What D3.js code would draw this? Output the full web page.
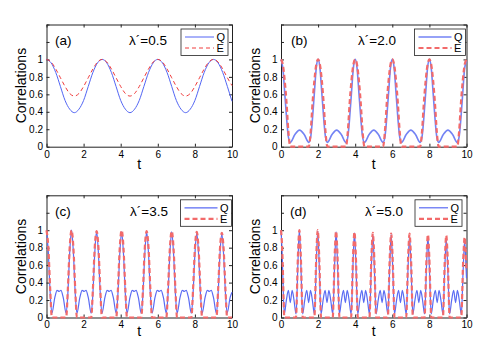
<!DOCTYPE html>
<html>
<head>
<meta charset="utf-8">
<script src="https://cdn.jsdelivr.net/npm/d3@7"></script>
<style>
	body { margin: 0; background: #fff; }
	svg { font-family: "Liberation Sans", Arial, sans-serif; }
</style>
</head>
<body>
<div class="chart"></div>
<script>
var WIDTH = 491,
	HEIGHT = 357,
	PLOT_W = 185.5,
	PLOT_H = 122.2;

// axis ticks
var xTicks = [0, 2, 4, 6, 8, 10];
var yTicks = [0, 0.2, 0.4, 0.6, 0.8, 1, 1.2, 1.4];
var yTickLabels = ["0", "0.2", "0.4", "0.6", "0.8", "1", "", ""];
var seriesNames = ["Q", "E"];
var panelLetters = ["(a)", "(b)", "(c)", "(d)"];
var lambdaValues = ["0.5", "2.0", "3.5", "5.0"];

// (a) lambda' = 0.5
var tA = [0,0.25,0.5,0.75,1,1.25,1.5,1.75,2,2.25,2.5,2.75,3,3.25,3.5,3.75,4,4.25,4.5,4.75,5,
	5.25,5.5,5.75,6,6.25,6.5,6.75,7,7.25,7.5,7.75,8,8.25,8.5,8.75,9,9.25,9.5,9.75,10];
var qA = [1.00,0.96,0.85,0.69,0.53,0.43,0.39,0.43,0.53,0.69,0.85,0.96,
	1.00,0.96,0.85,0.69,0.53,0.43,0.39,0.43,0.53,0.69,0.85,0.96,
	1.00,0.96,0.85,0.69,0.53,0.43,0.39,0.43,0.53,0.69,0.85,0.96,
	1.00,0.96,0.85,0.69,0.52];
var eA = [1.00,0.97,0.89,0.79,0.69,0.61,0.58,0.61,0.69,0.79,0.89,0.97,
	1.00,0.97,0.89,0.79,0.69,0.61,0.58,0.61,0.69,0.79,0.89,0.97,
	1.00,0.97,0.89,0.79,0.69,0.61,0.58,0.61,0.69,0.79,0.89,0.97,
	1.00,0.97,0.89,0.79,0.70];

// (b) lambda' = 2.0
var tB = [0,0.1,0.2,0.3,0.4,0.5,0.75,1,1.25,1.5,1.6,1.7,1.8,1.9,
	2,2.1,2.2,2.3,2.4,2.5,2.75,3,3.25,3.5,3.6,3.7,3.8,3.9,
	4,4.1,4.2,4.3,4.4,4.5,4.75,5,5.25,5.5,5.6,5.7,5.8,5.9,
	6,6.1,6.2,6.3,6.4,6.5,6.75,7,7.25,7.5,7.6,7.7,7.8,7.9,
	8,8.1,8.2,8.3,8.4,8.5,8.75,9,9.25,9.5,9.6,9.7,9.8,9.9,
	10];
var qB = [1.00,0.90,0.62,0.33,0.11,0.05,0.14,0.19,0.14,0.05,0.11,0.33,0.62,0.90,
	1.00,0.90,0.62,0.33,0.11,0.05,0.14,0.19,0.14,0.05,0.11,0.33,0.62,0.90,
	1.00,0.90,0.62,0.33,0.11,0.05,0.14,0.19,0.14,0.05,0.11,0.33,0.62,0.90,
	1.00,0.90,0.62,0.33,0.11,0.05,0.14,0.19,0.14,0.05,0.11,0.33,0.62,0.90,
	1.00,0.90,0.62,0.33,0.11,0.05,0.14,0.19,0.14,0.05,0.11,0.33,0.62,0.90,
	0.98];
var eB = [1.00,0.94,0.76,0.50,0.17,0,0,0,0,0,0.17,0.50,0.76,0.94,
	1.00,0.94,0.76,0.50,0.17,0,0,0,0,0,0.17,0.50,0.76,0.94,
	1.00,0.94,0.76,0.50,0.17,0,0,0,0,0,0.17,0.50,0.76,0.94,
	1.00,0.94,0.76,0.50,0.17,0,0,0,0,0,0.17,0.50,0.76,0.94,
	1.00,0.94,0.76,0.50,0.17,0,0,0,0,0,0.17,0.50,0.76,0.94,
	1.00];

// (c) lambda' = 3.5
var tC = [0,0.10,0.20,0.29,0.45,0.57,0.68,0.78,0.90,1.06,1.15,1.25,
	1.35,1.45,1.55,1.64,1.80,1.92,2.03,2.13,2.25,2.41,2.50,2.60,
	2.70,2.80,2.90,2.99,3.15,3.27,3.38,3.48,3.60,3.76,3.85,3.95,
	4.05,4.15,4.25,4.34,4.50,4.62,4.73,4.83,4.95,5.11,5.20,5.30,
	5.40,5.50,5.60,5.69,5.85,5.97,6.08,6.18,6.30,6.46,6.55,6.65,
	6.75,6.85,6.95,7.04,7.20,7.32,7.43,7.53,7.65,7.81,7.90,8.00,
	8.10,8.20,8.30,8.39,8.55,8.67,8.78,8.88,9.00,9.16,9.25,9.35,
	9.45,9.55,9.65,9.74,9.90,10.00];
var qC = [1.00,0.74,0.27,0.05,0.23,0.31,0.30,0.31,0.23,0.05,0.27,0.74,
	1.00,0.74,0.27,0.05,0.23,0.31,0.30,0.31,0.23,0.05,0.27,0.73,
	0.99,0.73,0.27,0.05,0.23,0.31,0.30,0.31,0.23,0.05,0.27,0.73,
	0.98,0.73,0.27,0.05,0.23,0.31,0.30,0.31,0.23,0.05,0.27,0.73,
	0.98,0.73,0.27,0.05,0.23,0.31,0.30,0.31,0.23,0.05,0.27,0.73,
	0.98,0.73,0.27,0.05,0.23,0.31,0.30,0.31,0.23,0.05,0.27,0.72,
	0.97,0.72,0.27,0.05,0.23,0.31,0.30,0.31,0.23,0.05,0.27,0.72,
	0.96,0.71,0.27,0.05,0.23,0.29];
var eC = [1.00,0.80,0.32,0,0,0,0,0,0,0,0.32,0.80,
	1.00,0.80,0.32,0,0,0,0,0,0,0,0.32,0.80,
	0.99,0.80,0.32,0,0,0,0,0,0,0,0.32,0.80,
	1.00,0.80,0.32,0,0,0,0,0,0,0,0.32,0.80,
	0.99,0.80,0.32,0,0,0,0,0,0,0,0.32,0.79,
	0.99,0.79,0.32,0,0,0,0,0,0,0,0.32,0.79,
	0.98,0.78,0.31,0,0,0,0,0,0,0,0.31,0.78,
	0.97,0.78,0.31,0,0,0];

// (d) lambda' = 5.0
var tD = [0,0.05,0.10,0.14,0.18,0.29,0.40,0.50,0.60,0.70,0.81,0.85,0.89,0.94,
	0.99,1.04,1.09,1.13,1.17,1.28,1.39,1.49,1.59,1.69,1.80,1.84,1.88,1.93,
	1.98,2.03,2.08,2.12,2.16,2.27,2.38,2.48,2.58,2.68,2.79,2.83,2.87,2.92,
	2.97,3.02,3.07,3.11,3.15,3.26,3.37,3.47,3.57,3.67,3.78,3.82,3.86,3.91,
	3.96,4.01,4.06,4.10,4.14,4.25,4.36,4.46,4.56,4.66,4.77,4.81,4.85,4.90,
	4.95,5.00,5.05,5.09,5.13,5.24,5.35,5.45,5.55,5.65,5.76,5.80,5.84,5.89,
	5.94,5.99,6.04,6.08,6.12,6.23,6.34,6.44,6.54,6.64,6.75,6.79,6.83,6.88,
	6.93,6.98,7.03,7.07,7.11,7.22,7.33,7.43,7.53,7.63,7.74,7.78,7.82,7.87,
	7.92,7.97,8.02,8.06,8.10,8.21,8.32,8.42,8.52,8.62,8.73,8.77,8.81,8.86,
	8.91,8.96,9.01,9.05,9.09,9.20,9.31,9.41,9.51,9.61,9.72,9.76,9.80,9.85,
	9.90,9.95,10.00];
var qD = [1.00,0.80,0.48,0.18,0.04,0.20,0.31,0.17,0.31,0.20,0.04,0.18,0.47,0.80,
	1.00,0.80,0.48,0.18,0.04,0.20,0.31,0.17,0.31,0.20,0.04,0.18,0.47,0.79,
	0.99,0.79,0.48,0.18,0.04,0.20,0.31,0.17,0.31,0.20,0.04,0.18,0.47,0.78,
	0.98,0.78,0.47,0.18,0.04,0.20,0.31,0.17,0.31,0.20,0.04,0.18,0.47,0.78,
	0.97,0.78,0.47,0.18,0.04,0.20,0.31,0.17,0.31,0.20,0.04,0.18,0.46,0.76,
	0.95,0.76,0.46,0.18,0.04,0.20,0.31,0.17,0.31,0.20,0.04,0.18,0.46,0.76,
	0.95,0.76,0.46,0.18,0.04,0.20,0.31,0.17,0.31,0.20,0.04,0.18,0.46,0.74,
	0.93,0.74,0.46,0.18,0.04,0.20,0.31,0.17,0.31,0.20,0.04,0.18,0.45,0.74,
	0.92,0.74,0.45,0.18,0.04,0.20,0.31,0.17,0.31,0.20,0.04,0.18,0.45,0.72,
	0.90,0.72,0.45,0.18,0.04,0.20,0.31,0.17,0.31,0.20,0.04,0.18,0.44,0.70,
	0.88,0.70,0.45];
var eD = [1.00,0.85,0.55,0.20,0,0,0,0,0,0,0,0.20,0.55,0.85,
	1.00,0.85,0.55,0.20,0,0,0,0,0,0,0,0.20,0.55,0.85,
	1.00,0.85,0.55,0.20,0,0,0,0,0,0,0,0.20,0.55,0.84,
	0.99,0.84,0.55,0.20,0,0,0,0,0,0,0,0.20,0.54,0.83,
	0.98,0.83,0.54,0.20,0,0,0,0,0,0,0,0.20,0.54,0.82,
	0.97,0.82,0.54,0.20,0,0,0,0,0,0,0,0.20,0.54,0.82,
	0.96,0.82,0.54,0.20,0,0,0,0,0,0,0,0.20,0.54,0.82,
	0.96,0.82,0.54,0.20,0,0,0,0,0,0,0,0.20,0.53,0.81,
	0.95,0.81,0.53,0.20,0,0,0,0,0,0,0,0.20,0.53,0.80,
	0.94,0.80,0.53,0.20,0,0,0,0,0,0,0,0.20,0.52,0.78,
	0.92,0.78,0.55];

var panels = [
	{ left: 46.5, top: 24.5, t: tA, q: qA, e: eA, qW: 1, eW: 1, qC: "#5265f4", eC: "#f03c3c", dash: "4,3", lamX: 82.5, letX: 8.5, legR: 4, legW: 47, pad: 4.5, tY: 22 },
	{ left: 281, top: 24.5, t: tB, q: qB, e: eB, qW: 1.6, eW: 2.2, qC: "#7383f4", eC: "#f26a6a", dash: "5,3", lamX: 77, letX: 10, legR: 1, legW: 51, pad: 4.5, tY: 22 },
	{ left: 46.5, top: 195.3, t: tC, q: qC, e: eC, qW: 1.2, eW: 2.2, qC: "#5a6bf3", eC: "#f26a6a", dash: "5,3", lamX: 83.5, letX: 8.5, legR: 0.5, legW: 51, pad: 3, tY: 19 },
	{ left: 281, top: 195.3, t: tD, q: qD, e: eD, qW: 1.2, eW: 2.2, qC: "#5a6bf3", eC: "#f26a6a", dash: "5,3", lamX: 84, letX: 9, legR: 4.5, legW: 47, pad: 3, tY: 19 }
];

var svg;

var drawPanel = function(p, i) {
	var xScale = d3.scaleLinear()
		.domain([0, 10])
		.range([0, PLOT_W]);

	var yScale = d3.scaleLinear()
		.domain([0, 1.4])
		.range([PLOT_H, 0]);

	var g = svg.append("g")
		.attr("transform", "translate(" + p.left + "," + p.top + ")");

	var tick = function(sel) {
		sel.selectAll("path").attr("stroke", "#222");
		sel.selectAll("line").attr("stroke", "#222");
		sel.selectAll("text").attr("fill", "#000").style("font-size", "10px");
	};

	g.append("g")
		.attr("transform", "translate(0," + PLOT_H + ")")
		.call(d3.axisBottom(xScale).tickValues(xTicks).tickSizeInner(-3).tickSizeOuter(0).tickPadding(p.pad))
		.call(tick);
	g.append("g")
		.call(d3.axisTop(xScale).tickValues(xTicks).tickSizeInner(-3).tickSizeOuter(0).tickFormat(""))
		.call(tick);
	g.append("g")
		.call(d3.axisLeft(yScale).tickValues(yTicks).tickSizeInner(-3).tickSizeOuter(0).tickPadding(3.5)
			.tickFormat(function(d, j) { return yTickLabels[j]; }))
		.call(tick);
	g.append("g")
		.attr("transform", "translate(" + PLOT_W + ",0)")
		.call(d3.axisRight(yScale).tickValues(yTicks).tickSizeInner(-3).tickSizeOuter(0).tickFormat(""))
		.call(tick);

	var line = d3.line()
		.curve(d3.curveMonotoneX)
		.x(function(d) { return xScale(d[0]); })
		.y(function(d) { return yScale(d[1]); });

	g.append("path")
		.attr("d", line(d3.zip(p.t, p.q)))
		.attr("fill", "none")
		.attr("stroke", p.qC)
		.attr("stroke-width", p.qW);

	g.append("path")
		.attr("d", line(d3.zip(p.t, p.e)))
		.attr("fill", "none")
		.attr("stroke", p.eC)
		.attr("stroke-width", p.eW)
		.attr("stroke-dasharray", p.dash);

	// labels
	g.append("text")
		.attr("x", p.letX)
		.attr("y", 20.5)
		.style("font-size", "13.5px")
		.text(panelLetters[i]);

	g.append("text")
		.attr("x", p.lamX)
		.attr("y", 20.5)
		.style("font-size", "13.5px")
		.text("\u03bb\u00b4=" + lambdaValues[i]);

	g.append("text")
		.attr("x", PLOT_W / 2)
		.attr("y", PLOT_H + p.tY)
		.attr("text-anchor", "middle")
		.style("font-size", "14px")
		.text("t");

	g.append("text")
		.attr("transform", "translate(-21," + (PLOT_H / 2) + ") rotate(-90)")
		.attr("text-anchor", "middle")
		.style("font-size", "14px")
		.text("Correlations");

	// legend
	var lg = g.append("g")
		.attr("transform", "translate(" + (PLOT_W - p.legR - p.legW) + ",4.5)");
	lg.append("rect")
		.attr("width", p.legW)
		.attr("height", 26.5)
		.attr("fill", "#fff")
		.attr("stroke", "#222")
		.attr("stroke-width", 0.8);
	[0, 1].forEach(function(k) {
		var yy = 8 + k * 11;
		lg.append("line")
			.attr("x1", 4).attr("x2", p.legW - 14)
			.attr("y1", yy).attr("y2", yy)
			.attr("stroke", k ? p.eC : p.qC)
			.attr("stroke-width", k ? p.eW : p.qW)
			.attr("stroke-dasharray", k ? p.dash : null);
		lg.append("text")
			.attr("x", p.legW - 11.5)
			.attr("y", yy + 4)
			.style("font-size", "11px")
			.text(seriesNames[k]);
	});
};

window.onload = function() {
	svg = d3.select(".chart").append("svg")
		.attr("width", WIDTH)
		.attr("height", HEIGHT);
	panels.forEach(drawPanel);
};
</script>
</body>
</html>
